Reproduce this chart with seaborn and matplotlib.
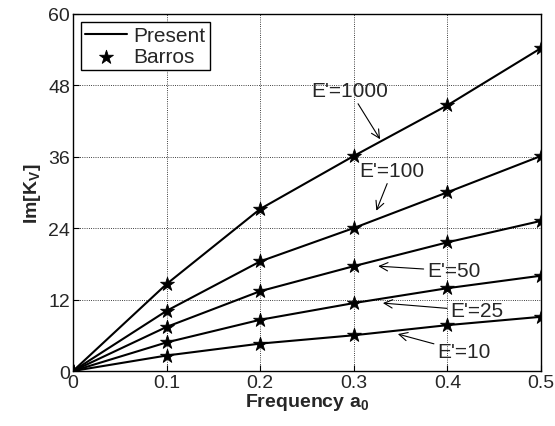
import numpy as np
import pandas as pd
import seaborn as sns
import matplotlib.pyplot as plt

freq = [0.0, 0.1, 0.2, 0.3, 0.4, 0.5]
e1000 = [0.0, 14.6, 27.2, 36.1, 44.6, 54.2]
e100 = [0.0, 10.1, 18.4, 24.0, 30.0, 36.1]
e50 = [0.0, 7.4, 13.4, 17.6, 21.6, 25.2]
e25 = [0.0, 4.8, 8.6, 11.4, 13.9, 16.0]
e10 = [0.0, 2.6, 4.6, 6.0, 7.7, 9.1]
series = {"1000": e1000, "100": e100, "50": e50, "25": e25, "10": e10}

sns.set_style("ticks")
plt.rcParams['font.family'] = ['Liberation Sans', 'DejaVu Sans']
plt.rcParams['mathtext.fontset'] = 'custom'
plt.rcParams['mathtext.rm'] = 'Liberation Sans'
plt.rcParams['mathtext.bf'] = 'Liberation Sans:bold'

df = pd.concat([pd.DataFrame({"a0": freq, "ImK": v, "E": k}) for k, v in series.items()])

fig = plt.figure(figsize=(5.55, 4.27), dpi=100)
ax = fig.add_axes([0.1315, 0.1288, 0.8435, 0.8372])

first = True
for k, g in df.groupby("E", sort=False):
    sns.lineplot(data=g, x="a0", y="ImK", ax=ax, color="black", lw=1.5,
                 label="Present" if first else None, legend=False)
    sns.scatterplot(data=g, x="a0", y="ImK", ax=ax, marker="*", s=110,
                    color="black", edgecolor="black", linewidth=0.6,
                    label="Barros" if first else None, legend=False, zorder=3)
    first = False

fs = 15
arr = dict(arrowstyle="->", color="black", lw=0.8, shrinkA=0, shrinkB=0)
ax.annotate("E'=1000", xy=(0.328, 38.9), xytext=(0.296, 47), ha="center", va="center",
            fontsize=fs, arrowprops=arr)
ax.annotate("E'=100", xy=(0.324, 26.9), xytext=(0.341, 33.6), ha="center", va="center",
            fontsize=fs, arrowprops=arr)
ax.annotate("E'=50", xy=(0.326, 17.6), xytext=(0.378, 16.8), ha="left", va="center",
            fontsize=fs, arrowprops=arr)
ax.annotate("E'=25", xy=(0.331, 11.4), xytext=(0.403, 10.1), ha="left", va="center",
            fontsize=fs, arrowprops=arr)
ax.annotate("E'=10", xy=(0.347, 6.2), xytext=(0.389, 3.2), ha="left", va="center",
            fontsize=fs, arrowprops=arr)

ax.set_xlim(0, 0.5)
ax.set_ylim(0, 60)
ax.set_xticks(freq)
ax.set_xticklabels(["0", "0.1", "0.2", "0.3", "0.4", "0.5"])
ax.set_yticks([0, 12, 24, 36, 48, 60])
ax.tick_params(labelsize=14, direction="in", length=4, color="black", pad=2)
ax.grid(True, color="black", linestyle=":", linewidth=0.6)
for s in ax.spines.values():
    s.set_color("black")
    s.set_linewidth(1.0)

ax.set_xlabel(r"Frequency a$_\mathbf{0}$", fontsize=14, fontweight="bold", labelpad=0)
ax.set_ylabel(r"Im[K$_\mathbf{V}$]", fontsize=14, fontweight="bold", labelpad=4)

h, l = ax.get_legend_handles_labels()
leg = ax.legend(h, l, loc="upper left", fontsize=15, frameon=True, fancybox=False,
                edgecolor="black", framealpha=1, borderpad=0.2, handlelength=2.0,
                labelspacing=0.1, handletextpad=0.3, borderaxespad=0.4)
leg.get_frame().set_linewidth(1.0)

fig.savefig("out.png", dpi=100)
